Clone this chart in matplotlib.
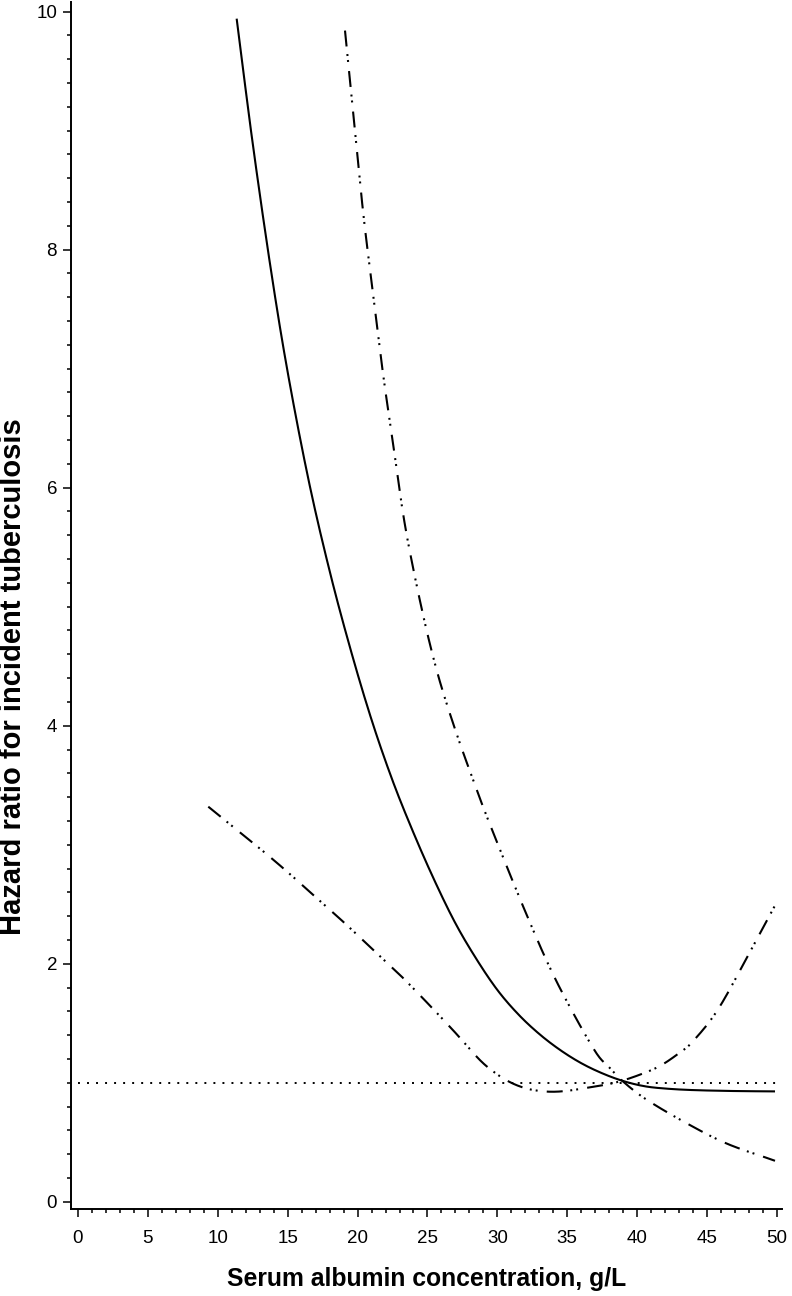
import matplotlib
matplotlib.use("Agg")
import matplotlib.pyplot as plt
from matplotlib.ticker import MultipleLocator
import numpy as np

plt.rcParams['font.family'] = ['Liberation Sans', 'DejaVu Sans']
plt.rcParams['lines.scale_dashes'] = False

# Solid curve (main estimate)
x_main = [11.35, 12.5, 13.8, 15.0, 16.5, 18.0, 19.5, 21.0, 22.5, 24.0, 25.5, 27.0, 28.5, 30.0, 31.5, 33.0, 34.5, 36.0, 37.5, 39.0, 40.5, 42.0, 44.0, 47.0, 49.86]
hr_main = [9.94, 8.89, 7.83, 6.97, 6.06, 5.30, 4.64, 4.05, 3.54, 3.10, 2.70, 2.34, 2.04, 1.78, 1.575, 1.41, 1.275, 1.165, 1.08, 1.015, 0.972, 0.952, 0.939, 0.931, 0.928]

# Steep dash-dot-dot curve
x_upper = [19.1, 19.58, 20.41, 21.12, 21.84, 22.55, 23.27, 23.98, 24.94, 25.89, 27.09, 28.28, 29.47, 32.1, 34.24, 36.86, 38.0, 39.0, 40.68, 43.54, 46.4, 49.5, 49.86]
hr_upper = [9.84, 9.27, 8.30, 7.62, 6.94, 6.36, 5.77, 5.32, 4.80, 4.37, 3.93, 3.54, 3.17, 2.41, 1.85, 1.29, 1.13, 1.01, 0.858, 0.66, 0.49, 0.36, 0.345]

# Shallow dash-dot-dot curve
x_lower = [9.32, 11.0, 13.0, 15.0, 17.0, 19.0, 21.0, 23.0, 25.0, 27.0, 28.76, 30.0, 31.0, 32.0, 33.0, 34.0, 35.07, 36.5, 38.3, 40.0, 41.6, 43.0, 44.0, 45.8, 48.07, 49.86]
hr_lower = [3.32, 3.16, 2.97, 2.77, 2.56, 2.35, 2.13, 1.91, 1.67, 1.42, 1.19, 1.07, 1.00, 0.955, 0.932, 0.925, 0.934, 0.96, 0.998, 1.06, 1.14, 1.25, 1.35, 1.62, 2.10, 2.49]

ref_x = [0, 50.4]
ref_y = [1.0, 1.0]

x_ticks = [0, 5, 10, 15, 20, 25, 30, 35, 40, 45, 50]
y_ticks = [0, 2, 4, 6, 8, 10]

W, H = 792, 1296
fig = plt.figure(figsize=(W / 100, H / 100), dpi=100)
ax = fig.add_axes([71 / W, (H - 1209) / H, (782 - 71) / W, (1209 - 2) / H])

def smooth(xs, ys, n=20):
    """Catmull-Rom curve through the read points (drawing only)."""
    sx, sy = 14.0, 119.0
    P = np.column_stack([np.asarray(xs, float) * sx, np.asarray(ys, float) * sy])
    P = np.vstack([2 * P[0] - P[1], P, 2 * P[-1] - P[-2]])
    out = []
    for i in range(1, len(P) - 2):
        p0, p1, p2, p3 = P[i - 1], P[i], P[i + 1], P[i + 2]
        t = np.linspace(0, 1, n, endpoint=False)[:, None]
        seg = 0.5 * ((2 * p1) + (-p0 + p2) * t + (2 * p0 - 5 * p1 + 4 * p2 - p3) * t ** 2
                     + (-p0 + 3 * p1 - 3 * p2 + p3) * t ** 3)
        out.append(seg)
    out.append(P[-2][None, :])
    out = np.vstack(out)
    return out[:, 0] / sx, out[:, 1] / sy

lw = 1.5
xs, ys = smooth(x_main, hr_main)
ax.plot(xs, ys, color='black', lw=lw, solid_capstyle='butt')

dd = (0, (11.5, 5.5, 1.4, 2.9, 1.4, 6.6))
xs, ys = smooth(x_upper, hr_upper)
ax.plot(xs, ys, color='black', lw=lw, linestyle=dd)
xs, ys = smooth(x_lower, hr_lower)
ax.plot(xs, ys, color='black', lw=lw, linestyle=dd)

ax.plot(ref_x, ref_y, color='black', lw=1.4, linestyle=(0, (1.4, 5.1)))

ax.set_xlim(-0.5, 50.36)
ax.set_ylim(-0.06, 10.08)
ax.set_xticks(x_ticks)
ax.set_yticks(y_ticks)
ax.xaxis.set_minor_locator(MultipleLocator(1))
ax.yaxis.set_minor_locator(MultipleLocator(0.2))

for s in ['top', 'right']:
    ax.spines[s].set_visible(False)
for s in ['left', 'bottom']:
    ax.spines[s].set_linewidth(1.4)

ax.tick_params(which='major', length=6, width=1.1, labelsize=13.5, direction='out')
ax.tick_params(which='minor', length=3, width=1.1, direction='out')
ax.tick_params(axis='x', which='major', pad=9)
ax.tick_params(axis='y', which='major', pad=4)

ax.set_xlabel('Serum albumin concentration, g/L', fontsize=17.8, fontweight='bold')
ax.set_ylabel('Hazard ratio for incident tuberculosis', fontsize=21, fontweight='bold')
ax.xaxis.set_label_coords(0.5, -0.048)
ax.yaxis.set_label_coords(-0.062, 0.441)

fig.savefig('out.png', dpi=100)
